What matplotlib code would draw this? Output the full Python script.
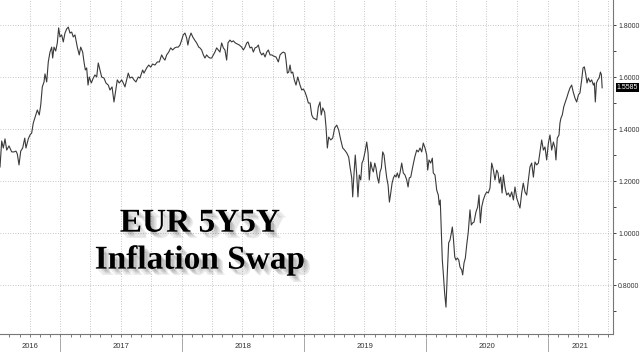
import numpy as np
import pandas as pd
import matplotlib
matplotlib.use("Agg")
import matplotlib.pyplot as plt
import matplotlib.dates as mdates
import matplotlib.patheffects as pe
import matplotlib.transforms as mtrans
from matplotlib.ticker import MultipleLocator, FuncFormatter

# -------- DATA (decimal year, swap rate) --------
years = [
    2016.508, 2016.522, 2016.535, 2016.549, 2016.563, 2016.582, 2016.604, 2016.623, 2016.639, 2016.650,
    2016.664, 2016.678, 2016.694, 2016.711, 2016.721, 2016.740, 2016.754, 2016.768, 2016.781, 2016.801,
    2016.814, 2016.830, 2016.842, 2016.855, 2016.869, 2016.877, 2016.891, 2016.904, 2016.918, 2016.932,
    2016.940, 2016.951, 2016.965, 2016.978, 2016.989, 2017.000, 2017.014, 2017.027, 2017.041, 2017.055,
    2017.068, 2017.082, 2017.096, 2017.109, 2017.123, 2017.142, 2017.158, 2017.170, 2017.186, 2017.197,
    2017.208, 2017.219, 2017.230, 2017.240, 2017.257, 2017.273, 2017.287, 2017.301, 2017.314, 2017.328,
    # 2017 - early 2018
    2017.342, 2017.361, 2017.377, 2017.396, 2017.410, 2017.427, 2017.443, 2017.454, 2017.470, 2017.486,
    2017.506, 2017.519, 2017.533, 2017.547, 2017.560, 2017.574, 2017.591, 2017.607, 2017.623, 2017.642,
    2017.656, 2017.678, 2017.689, 2017.711, 2017.728, 2017.744, 2017.760, 2017.779, 2017.798, 2017.815,
    2017.834, 2017.847, 2017.861, 2017.875, 2017.892, 2017.908, 2017.924, 2017.941, 2017.957, 2017.970,
    2017.984, 2017.998, 2018.011, 2018.025, 2018.039, 2018.049, 2018.060, 2018.075, 2018.089, 2018.105,
    2018.121, 2018.138, 2018.148,
    # 2018
    2018.162, 2018.176, 2018.189, 2018.203, 2018.217, 2018.230, 2018.244, 2018.258, 2018.271, 2018.285,
    2018.299, 2018.312, 2018.326, 2018.340, 2018.353, 2018.367, 2018.378, 2018.394, 2018.408, 2018.422,
    2018.438, 2018.454, 2018.471, 2018.490, 2018.504, 2018.518, 2018.532, 2018.542, 2018.559, 2018.573,
    2018.586, 2018.600, 2018.614, 2018.627, 2018.641, 2018.655, 2018.668, 2018.682, 2018.696, 2018.709,
    2018.723, 2018.737, 2018.750, 2018.772, 2018.791, 2018.805, 2018.819, 2018.832, 2018.846, 2018.854,
    2018.865, 2018.876, 2018.887, 2018.897, 2018.909, 2018.922, 2018.936, 2018.950,
    # 2019
    2018.969, 2018.983, 2018.996, 2019.010, 2019.024, 2019.037, 2019.051, 2019.065, 2019.078, 2019.092,
    2019.106, 2019.119, 2019.133, 2019.143, 2019.155, 2019.171, 2019.182, 2019.193, 2019.204, 2019.221,
    2019.237, 2019.253, 2019.270, 2019.286, 2019.303, 2019.319, 2019.335, 2019.352, 2019.368, 2019.379,
    2019.393, 2019.401, 2019.412, 2019.422, 2019.434, 2019.444, 2019.455, 2019.467, 2019.477, 2019.488,
    2019.502, 2019.516, 2019.527, 2019.537, 2019.549, 2019.559, 2019.570, 2019.582, 2019.592, 2019.603,
    2019.615, 2019.625, 2019.636, 2019.647, 2019.658, 2019.669, 2019.680, 2019.691, 2019.702, 2019.713,
    2019.724, 2019.735, 2019.746, 2019.756, 2019.767, 2019.779, 2019.789,
    # late 2019 - 2020
    2019.803, 2019.816, 2019.830, 2019.844, 2019.855, 2019.865, 2019.877, 2019.893, 2019.910, 2019.926,
    2019.939, 2019.953, 2019.967, 2019.980, 2019.994, 2020.008, 2020.016, 2020.027, 2020.041, 2020.054,
    2020.062, 2020.076, 2020.090, 2020.103, 2020.111, 2020.119, 2020.128, 2020.136, 2020.144, 2020.155,
    2020.166, 2020.177, 2020.188, 2020.199, 2020.210, 2020.218, 2020.226, 2020.238, 2020.248, 2020.259,
    2020.271, 2020.281, 2020.295, 2020.303, 2020.314, 2020.325, 2020.336, 2020.349, 2020.363, 2020.374,
    2020.385, 2020.396, 2020.412, 2020.426, 2020.437, 2020.448, 2020.459, 2020.472, 2020.486, 2020.500,
    2020.513, 2020.527, 2020.541, 2020.555, 2020.568, 2020.582, 2020.593, 2020.603, 2020.615, 2020.626,
    2020.637, 2020.651,
    # late 2020 - 2021
    2020.664, 2020.678, 2020.691, 2020.705, 2020.719, 2020.732, 2020.746, 2020.760, 2020.773, 2020.787,
    2020.800, 2020.814, 2020.828, 2020.842, 2020.855, 2020.869, 2020.883, 2020.896, 2020.910, 2020.924,
    2020.937, 2020.951, 2020.965, 2020.978, 2020.992, 2021.006, 2021.019, 2021.033, 2021.047, 2021.060,
    2021.068, 2021.079, 2021.093, 2021.101, 2021.109, 2021.120, 2021.132, 2021.142, 2021.156, 2021.169,
    2021.183, 2021.197, 2021.210, 2021.224, 2021.238, 2021.252, 2021.265, 2021.279, 2021.290, 2021.301,
    2021.312, 2021.323, 2021.334, 2021.348, 2021.361, 2021.375, 2021.383, 2021.391, 2021.400, 2021.411,
    2021.422, 2021.433, 2021.441, 2021.447,
]

swap = [
    1.254, 1.354, 1.327, 1.362, 1.319, 1.335, 1.312, 1.312, 1.315, 1.304,
    1.262, 1.315, 1.327, 1.365, 1.327, 1.362, 1.377, 1.385, 1.423, 1.454,
    1.473, 1.454, 1.492, 1.562, 1.581, 1.612, 1.581, 1.658, 1.696, 1.715,
    1.673, 1.715, 1.700, 1.731, 1.789, 1.754, 1.762, 1.735, 1.769, 1.785,
    1.792, 1.769, 1.773, 1.754, 1.762, 1.715, 1.685, 1.715, 1.696, 1.658,
    1.627, 1.635, 1.569, 1.600, 1.577, 1.596, 1.608, 1.600, 1.654, 1.627,
    # 2017 - early 2018
    1.600, 1.596, 1.577, 1.569, 1.550, 1.562, 1.504, 1.539, 1.589, 1.577,
    1.589, 1.577, 1.562, 1.589, 1.615, 1.596, 1.600, 1.589, 1.581, 1.600,
    1.596, 1.627, 1.615, 1.635, 1.646, 1.638, 1.650, 1.646, 1.658, 1.658,
    1.685, 1.673, 1.665, 1.685, 1.696, 1.712, 1.704, 1.712, 1.715, 1.715,
    1.723, 1.742, 1.762, 1.769, 1.750, 1.723, 1.750, 1.769, 1.754, 1.742,
    1.731, 1.715, 1.712,
    # 2018
    1.704, 1.685, 1.673, 1.685, 1.677, 1.673, 1.673, 1.685, 1.696, 1.712,
    1.704, 1.696, 1.731, 1.712, 1.704, 1.665, 1.731, 1.742, 1.735, 1.739,
    1.731, 1.727, 1.723, 1.715, 1.704, 1.715, 1.731, 1.735, 1.712, 1.715,
    1.696, 1.712, 1.715, 1.723, 1.696, 1.685, 1.692, 1.677, 1.696, 1.704,
    1.685, 1.685, 1.681, 1.677, 1.658, 1.685, 1.692, 1.696, 1.692, 1.665,
    1.615, 1.619, 1.646, 1.615, 1.619, 1.589, 1.569, 1.600,
    # 2019
    1.569, 1.550, 1.554, 1.542, 1.523, 1.500, 1.500, 1.454, 1.442, 1.439,
    1.435, 1.485, 1.504, 1.454, 1.481, 1.465, 1.408, 1.327, 1.369, 1.358,
    1.365, 1.404, 1.415, 1.396, 1.358, 1.327, 1.319, 1.308, 1.292, 1.254,
    1.212, 1.139, 1.231, 1.300, 1.223, 1.139, 1.223, 1.204, 1.269, 1.281,
    1.312, 1.350, 1.308, 1.204, 1.273, 1.250, 1.235, 1.269, 1.250, 1.215,
    1.192, 1.235, 1.250, 1.312, 1.300, 1.254, 1.212, 1.185, 1.119, 1.154,
    1.192, 1.212, 1.223, 1.215, 1.231, 1.212, 1.231,
    # late 2019 - 2020
    1.269, 1.231, 1.223, 1.204, 1.177, 1.212, 1.215, 1.254, 1.292, 1.319,
    1.312, 1.327, 1.312, 1.346, 1.327, 1.300, 1.242, 1.281, 1.269, 1.288,
    1.231, 1.223, 1.165, 1.146, 1.108, 1.127, 1.000, 0.896, 0.846, 0.769,
    0.715, 0.846, 0.962, 0.973, 1.000, 1.023, 0.985, 0.908, 0.896, 0.904,
    0.896, 0.869, 0.858, 0.839, 0.885, 0.904, 0.954, 1.004, 1.089, 1.031,
    1.039, 1.042, 1.081, 1.100, 1.146, 1.039, 1.100, 1.127, 1.146, 1.158,
    1.154, 1.173, 1.269, 1.242, 1.204, 1.242, 1.231, 1.192, 1.215, 1.154,
    1.223, 1.173,
    # late 2020 - 2021
    1.146, 1.154, 1.139, 1.158, 1.127, 1.177, 1.135, 1.115, 1.096, 1.154,
    1.192, 1.158, 1.146, 1.204, 1.254, 1.269, 1.215, 1.273, 1.262, 1.269,
    1.312, 1.358, 1.319, 1.331, 1.281, 1.346, 1.377, 1.319, 1.350, 1.327,
    1.281, 1.365, 1.377, 1.423, 1.442, 1.454, 1.485, 1.500, 1.519, 1.539,
    1.558, 1.569, 1.542, 1.519, 1.504, 1.531, 1.539, 1.589, 1.635, 1.639,
    1.612, 1.577, 1.596, 1.581, 1.589, 1.569, 1.577, 1.504, 1.577, 1.589,
    1.596, 1.619, 1.608, 1.5585,
]

year_labels = [2016, 2017, 2018, 2019, 2020, 2021]
last_value = "1.5585"
title_lines = ["EUR 5Y5Y", "Inflation Swap"]

# visible window of the chart (decimal years)
x_start, x_end = 2016.508, 2021.536
# ------------------------------------------------------------------


def to_date(y):
    y = np.atleast_1d(np.asarray(y, dtype=float))
    return pd.Timestamp("2016-01-01") + pd.to_timedelta((y - 2016.0) * 365.25, unit="D")


dates = to_date(years)

fig = plt.figure(figsize=(6.4, 3.52), dpi=100)
ax = fig.add_axes([0, 18 / 352, 613 / 640, 334 / 352])

ax.plot(dates, swap, color="#3a3a3a", lw=0.8, zorder=3)

ax.set_xlim(to_date(x_start)[0], to_date(x_end)[0])
ax.set_ylim(0.6116, 1.8962)

# right-hand value axis
ax.yaxis.tick_right()
ax.yaxis.set_major_locator(MultipleLocator(0.2))
ax.yaxis.set_minor_locator(MultipleLocator(0.1))
ax.yaxis.set_major_formatter(FuncFormatter(lambda v, _: f"{v:.4f}"))
ax.tick_params(axis="y", which="both", direction="out", length=2.5, width=0.7,
               color="#444444", labelsize=5, labelcolor="#333333", pad=1.2)
for lab in ax.get_yticklabels():
    lab.set_family("Liberation Sans")

# time axis: quarterly grid, monthly ticks, custom year labels
ax.xaxis.set_major_locator(mdates.MonthLocator(bymonth=(1, 4, 7, 10)))
ax.xaxis.set_minor_locator(mdates.MonthLocator())
ax.tick_params(axis="x", which="both", direction="out", length=2, width=0.6,
               color="#666666", labelbottom=False)

ax.grid(True, which="major", ls=(0, (1, 2)), color="#b5b5b5", lw=0.6)

for s in ("left", "top"):
    ax.spines[s].set_visible(False)
for s in ("bottom", "right"):
    ax.spines[s].set_color("#777777")
    ax.spines[s].set_linewidth(0.8)

trans_x = mtrans.blended_transform_factory(ax.transData, ax.transAxes)
for yr in year_labels:
    lo = max(yr, x_start)
    hi = min(yr + 1, x_end)
    mid = to_date((lo + hi) / 2)[0]
    ax.text(mid, -0.036, str(yr), transform=trans_x, ha="center", va="center",
            fontsize=5.5, family="Liberation Sans", color="#333333", clip_on=False)
    if yr > year_labels[0]:
        ax.plot([to_date(yr)[0]] * 2, [-0.012, -0.06], transform=trans_x,
                color="#999999", lw=0.6, clip_on=False)

# last value tag
trans_y = mtrans.blended_transform_factory(ax.transAxes, ax.transData)
ax.text(1.006, float(last_value), last_value, transform=trans_y, ha="left", va="center",
        fontsize=5, family="Liberation Sans", color="white", clip_on=False,
        bbox=dict(boxstyle="square,pad=0.15", fc="black", ec="none"))

# title with soft drop shadow
shadow = [pe.SimplePatchShadow(offset=(d, -d), shadow_rgbFace="#555555", alpha=0.12)
          for d in (1.5, 2.5, 3.5, 4.5)]
shadow.append(pe.Normal())
for txt, yy in zip(title_lines, (0.366, 0.261)):
    fig.text(0.3125, yy, txt, ha="center", va="center", fontsize=24, fontweight="bold",
             family="Liberation Serif", color="black", path_effects=shadow)

fig.savefig("out.png", dpi=100)
